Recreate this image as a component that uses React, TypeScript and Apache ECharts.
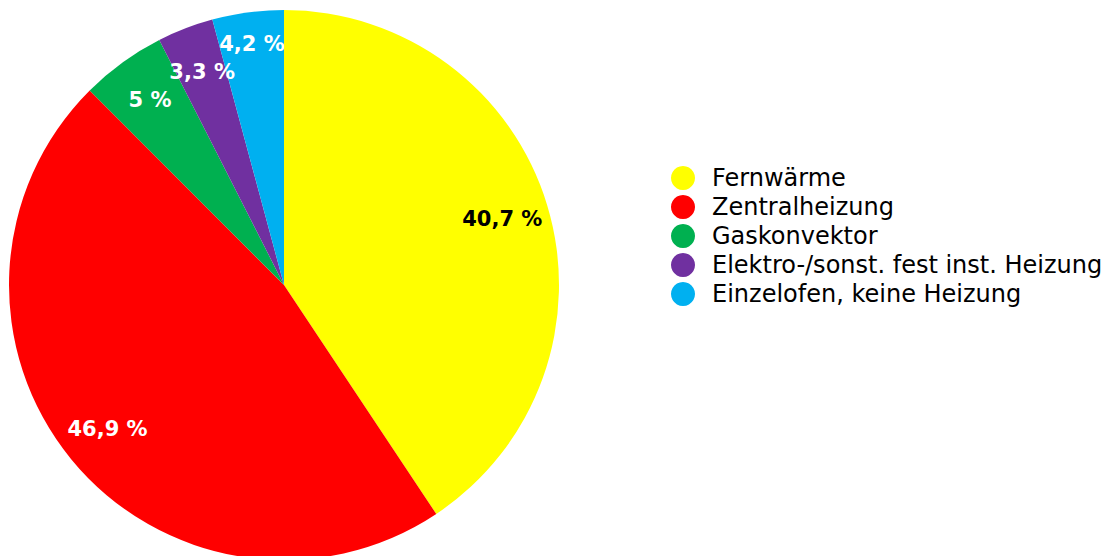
import React, { useEffect, useRef } from "react";
import * as echarts from "echarts";

const categories = [
  "Fernwärme",
  "Zentralheizung",
  "Gaskonvektor",
  "Elektro-/sonst. fest inst. Heizung",
  "Einzelofen, keine Heizung",
];
const values = [40.7, 46.9, 5, 3.3, 4.2];
const colors = ["#FFFF00", "#FF0000", "#00B050", "#7030A0", "#00B0F0"];
const labelColors = ["#000000", "#ffffff", "#ffffff", "#ffffff", "#ffffff"];

const FONT = "DejaVu Sans";

export default function App() {
  const ref = useRef<HTMLDivElement>(null);
  useEffect(() => {
    const chart = echarts.init(ref.current!, null, { renderer: "svg" });
    const fmt = (p: any) => String(p.value).replace(".", ",") + " %";
    chart.setOption({
      animation: false,
      color: colors,
      legend: {
        orient: "vertical",
        left: 666,
        top: 161,
        icon: "circle",
        itemWidth: 24,
        itemHeight: 24,
        itemGap: 5,
        data: categories,
        textStyle: {
          fontFamily: FONT,
          fontSize: 24,
          color: "#000",
          padding: [0, 0, 0, 12],
        },
        selectedMode: false,
      },
      series: [
        {
          type: "pie",
          center: [284, 285],
          radius: [0, 275],
          startAngle: 90,
          clockwise: true,
          silent: true,
          label: { show: false },
          labelLine: { show: false },
          data: categories.map((n, i) => ({
            name: n,
            value: values[i],
            itemStyle: { color: colors[i] },
          })),
        },
        {
          type: "pie",
          center: [284, 285],
          radius: [175, 275],
          startAngle: 90,
          clockwise: true,
          silent: true,
          itemStyle: { color: "rgba(0,0,0,0)" },
          labelLine: { show: false },
          label: {
            show: true,
            position: "inside",
            formatter: fmt,
            fontFamily: FONT,
            fontWeight: "bold",
            fontSize: 21,
          },
          data: categories.map((n, i) => ({
            name: n,
            value: values[i],
            itemStyle: { color: "rgba(0,0,0,0)" },
            label: {
              color: labelColors[i],
              ...(i === 4 ? { offset: [-2, -15] } : {}),
            },
          })),
        },
      ],
    });
    return () => chart.dispose();
  }, []);
  return (
    <div
      ref={ref}
      style={{ position: "absolute", left: 0, top: 0, width: 1117, height: 556 }}
    />
  );
}
